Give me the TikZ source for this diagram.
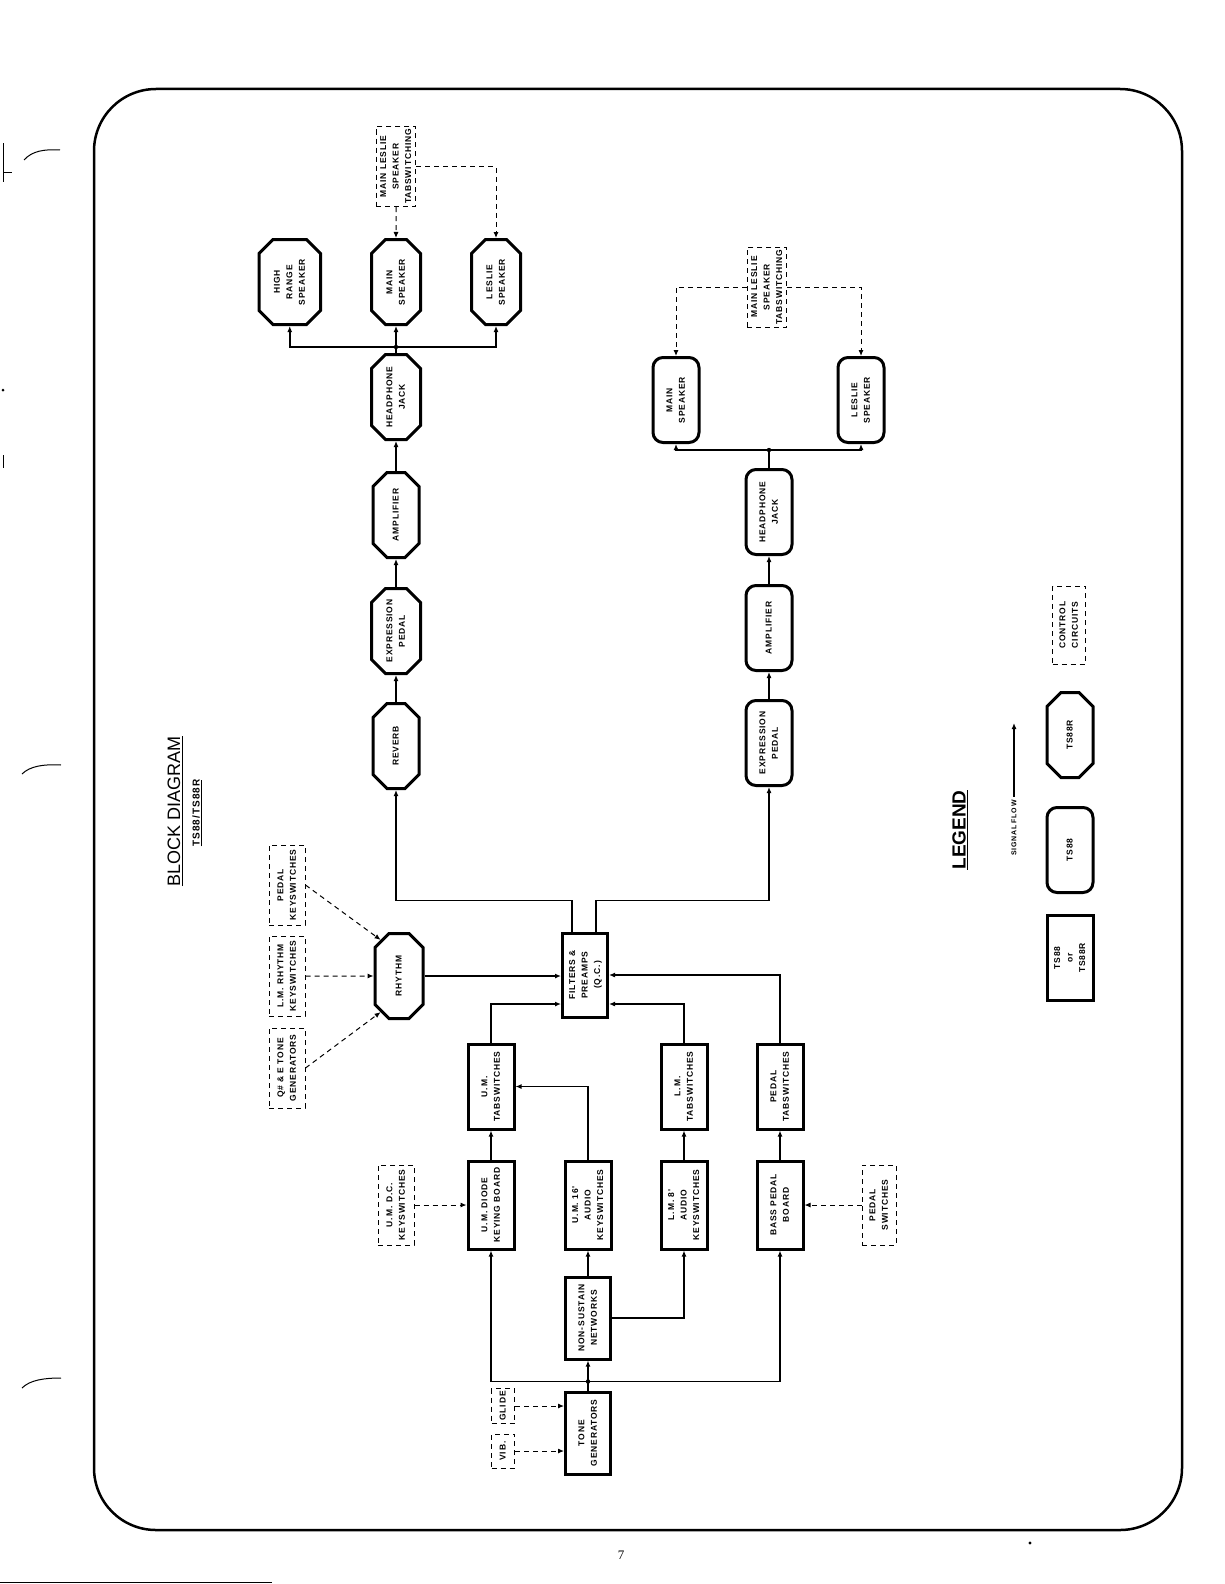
\documentclass[tikz,border=0pt]{standalone}
\usepackage{fontspec}
\setmainfont{Liberation Serif}
\setsansfont{Liberation Sans}
\newfontfamily\blockfont{Liberation Sans}[LetterSpace=10]
\usepackage{graphicx}
\usetikzlibrary{positioning, arrows.meta, shapes.misc, calc}

% rotated multi-line label, read from bottom to top
\newcommand{\vtext}[1]{\rotatebox{90}{\begin{tabular}{@{}c@{}}#1\end{tabular}}}

\begin{document}
\begin{tikzpicture}[
    x=1pt, y=-1pt,
    % block shapes of the legend
    box/.style={
        draw,
        line width=3pt,
        minimum width=46pt,
        minimum height=85pt,
        inner sep=1pt,
        font=\blockfont\bfseries\fontsize{8.5}{12.5}\selectfont
    },
    tsany/.style={box},
    tseight/.style={box, rounded corners=10pt},
    tsr/.style={box, chamfered rectangle, chamfered rectangle xsep=11pt},
    ctrl/.style={
        draw,
        line width=1pt,
        dash pattern=on 5pt off 4pt,
        minimum width=36pt,
        minimum height=80pt,
        inner sep=1pt,
        font=\blockfont\bfseries\fontsize{8.5}{12.5}\selectfont
    },
    arr/.style={-{Latex[length=6pt,width=5pt]}, line width=1.6pt},
    dsharr/.style={arr, line width=1pt, dash pattern=on 5pt off 4pt},
    junc/.style={line width=1.6pt}
]
\useasboundingbox[fill=white] (0,0) rectangle (1224,1584);

    % --- Page frame ---
    \draw[line width=2.5pt, rounded corners=62pt] (94,89) rectangle (1182,1530);

    % --- Title ---
    \node[rotate=90, font=\sffamily\fontsize{18}{20}\selectfont] (title) at (175,811) {\underline{BLOCK DIAGRAM}};
    \node[rotate=90, font=\blockfont\bfseries\fontsize{10}{12}\selectfont] (subtitle) at (197,813) {\underline{TS88/TS88R}};

    % --- TS88R output chain ---
    \node[tsr] (hjL) at (396,397) {\vtext{HEADPHONE\\JACK}};
    \node[tsr, below=30pt of hjL] (ampL) {\vtext{AMPLIFIER}};
    \node[tsr, below=28pt of ampL] (exprL) {\vtext{EXPRESSION\\PEDAL}};
    \node[tsr, below=27pt of exprL] (revL) {\vtext{REVERB}};
    \node[tsr, above=27pt of hjL] (msL) {\vtext{MAIN\\SPEAKER}};
    \node[tsr, left=48pt of msL] (hrs) {\vtext{HIGH\\RANGE\\SPEAKER}};
    \node[tsr, right=48pt of msL] (lsL) {\vtext{LESLIE\\SPEAKER}};
    \node[ctrl, above=31pt of msL] (tabL) {\vtext{MAIN LESLIE\\SPEAKER\\TABSWITCHING}};

    % --- TS88 output chain ---
    \node[tseight] (hjR) at (769,512) {\vtext{HEADPHONE\\JACK}};
    \node[tseight, below=28pt of hjR] (ampR) {\vtext{AMPLIFIER}};
    \node[tseight, below=27pt of ampR] (exprR) {\vtext{EXPRESSION\\PEDAL}};
    \node[tseight] (msR) at (676,400) {\vtext{MAIN\\SPEAKER}};
    \node[tseight] (lsR) at (861,400) {\vtext{LESLIE\\SPEAKER}};
    \node[ctrl] (tabR) at (767,287) {\vtext{MAIN LESLIE\\SPEAKER\\TABSWITCHING}};

    % --- Filters and rhythm ---
    \node[tsany, minimum width=45pt, minimum height=84pt] (flt) at (585,975) {\vtext{FILTERS \&\\PREAMPS\\(Q.\,C.)}};
    \node[tsr, minimum width=48pt] (rhy) at (399,976) {\vtext{RHYTHM}};
    \node[ctrl] (lmrhy) at (287,976) {\vtext{L.\,M. RHYTHM\\KEYSWITCHES}};
    \node[ctrl, above=10pt of lmrhy] (pedkey) {\vtext{PEDAL\\KEYSWITCHES}};
    \node[ctrl, below=11pt of lmrhy] (qsharp) {\vtext{Q\# \& E TONE\\GENERATORS}};

    % --- Keyboards and tabswitches ---
    \node[tsany, minimum height=88pt] (umkb) at (491,1205) {\vtext{U.\,M. DIODE\\KEYING BOARD}};
    \node[tsany, minimum height=88pt, right=48pt of umkb] (um16) {\vtext{U.\,M. 16'\\AUDIO\\KEYSWITCHES}};
    \node[tsany, minimum height=88pt, right=47pt of um16] (lm8) {\vtext{L.\,M. 8'\\AUDIO\\KEYSWITCHES}};
    \node[tsany, minimum height=88pt, right=47pt of lm8] (bass) {\vtext{BASS PEDAL\\BOARD}};
    \node[ctrl, left=52pt of umkb] (umdc) {\vtext{U.\,M. D.\,C.\\KEYSWITCHES}};
    \node[ctrl, minimum width=34pt, right=57pt of bass] (psw) {\vtext{PEDAL\\SWITCHES}};
    \node[tsany, above=29pt of umkb] (umtab) {\vtext{U.\,M.\\TABSWITCHES}};
    \node[tsany, above=29pt of lm8] (lmtab) {\vtext{L.\,M.\\TABSWITCHES}};
    \node[tsany, above=29pt of bass] (pedtab) {\vtext{PEDAL\\TABSWITCHES}};

    % --- Generators ---
    \node[tsany, minimum width=45pt, minimum height=82pt, below=25pt of um16] (nonsus) {\vtext{NON-SUSTAIN\\NETWORKS}};
    \node[tsany, minimum width=45pt, minimum height=82pt, below=30pt of nonsus] (tone) {\vtext{TONE\\GENERATORS}};
    \node[ctrl, minimum width=23pt, minimum height=35pt, inner sep=0.5pt] (glide) at (503,1406) {\vtext{GLIDE}};
    \node[ctrl, minimum width=23pt, minimum height=34pt, inner sep=0.5pt] (vib) at (503,1451) {\vtext{VIB.}};

    % --- Legend ---
    \node[rotate=90, font=\sffamily\bfseries\fontsize{19}{21}\selectfont] (legend) at (960,830) {\underline{LEGEND}};
    \node[rotate=90, font=\blockfont\bfseries\fontsize{7}{9}\selectfont] (sigflow) at (1014,828) {SIGNAL FLOW};
    \coordinate (sigtip) at (1014,723);
    \node[tsr] (keyR) at (1070,735) {\vtext{TS88R}};
    \node[tseight] (keyA) at (1070,850) {\vtext{TS88}};
    \node[tsany] (keyB) at (1070,958) {\vtext{TS88\\or\\TS88R}};
    \node[ctrl, minimum width=33pt, minimum height=78pt] (keyC) at (1069,625) {\vtext{CONTROL\\CIRCUITS}};

    % --- Edges ---
    % TS88R chain up to the speakers
    \draw[arr] (revL) -- (exprL);
    \draw[arr] (exprL) -- (ampL);
    \draw[arr] (ampL) -- (hjL);
    \draw[arr] (hjL) -- (msL);
    \coordinate (jL) at ($(hjL.north)+(0,-6)$);
    \draw[arr] (jL) -| (hrs.south);
    \draw[arr] (jL) -| (lsL.south);
    \fill (jL) circle (2.2pt);
    \draw[dsharr] (tabL) -- (msL);
    \draw[dsharr] (tabL.east) -| (lsL.north);

    % TS88 chain up to the speakers
    \draw[arr] (exprR) -- (ampR);
    \draw[arr] (ampR) -- (hjR);
    \coordinate (jR) at ($(hjR.north)+(0,-18)$);
    \draw[junc] (hjR.north) -- (jR);
    \draw[arr] (jR) -| (msR.south);
    \draw[arr] (jR) -| (lsR.south);
    \fill (jR) circle (2.2pt);
    \draw[dsharr] (tabR.west) -| (msR.north);
    \draw[dsharr] (tabR.east) -| (lsR.north);

    % filters out to both chains
    \draw[arr] ([xshift=-13pt]flt.north) -- ++(0,-31) -| (revL.south);
    \draw[arr] ([xshift=11pt]flt.north) -- ++(0,-31) -| (exprR.south);

    % rhythm inputs
    \draw[dsharr] (pedkey.east) -- (rhy.117);
    \draw[dsharr] (lmrhy) -- (rhy);
    \draw[dsharr] (qsharp.east) -- (rhy.243);
    \draw[arr] (rhy.east) -- (rhy.east -| flt.west);

    % tabswitches into filters
    \draw[arr] (umtab.north) |- ([yshift=-29pt]flt.west);
    \draw[arr] (lmtab.north) |- ([yshift=-29pt]flt.east);
    \draw[arr] (pedtab.north) |- (flt.east);
    \draw[arr] (um16.north) |- (umtab.east);

    % keyboards into tabswitches
    \draw[arr] (umkb) -- (umtab);
    \draw[arr] (lm8) -- (lmtab);
    \draw[arr] (bass) -- (pedtab);
    \draw[dsharr] (umdc) -- (umkb);
    \draw[dsharr] (psw) -- (bass);

    % generators
    \draw[arr] (nonsus) -- (um16);
    \draw[arr] (nonsus.east) -| (lm8.south);
    \coordinate (jT) at ($(tone.north)+(0,-9)$);
    \draw[junc] (tone.north) -- (jT);
    \draw[arr] (jT) -- (nonsus.south);
    \draw[arr] (jT) -| (umkb.south);
    \draw[arr] (jT) -| (bass.south);
    \fill (jT) circle (2.2pt);
    \draw[dsharr] (glide.east) -- (glide.east -| tone.west);
    \draw[dsharr] (vib.east) -- (vib.east -| tone.west);

    % legend arrow
    \draw[arr] (sigflow.east) -- (sigtip);

    % --- Page marks ---
    \node[font=\rmfamily\fontsize{13}{15}\selectfont] (pagenum) at (621,1555) {7};
    \fill (1030,1543) circle (1.6pt);
    \draw[line width=1pt] (24,160) .. controls (32,151) and (44,149) .. (60,150);
    \draw[line width=1pt] (22,774) .. controls (30,766) and (44,764) .. (61,765);
    \draw[line width=1pt] (22,1388) .. controls (30,1380) and (44,1378) .. (61,1378);
    \draw[line width=0.8pt] (3,143) -- (3,182);
    \draw[line width=0.8pt] (3,172) -- (12,172);
    \draw[line width=0.8pt] (3,455) -- (3,468);
    \fill (3,390) circle (1.5pt);
    \draw[line width=0.8pt] (0,1582) -- (272,1582);

\end{tikzpicture}
\end{document}
